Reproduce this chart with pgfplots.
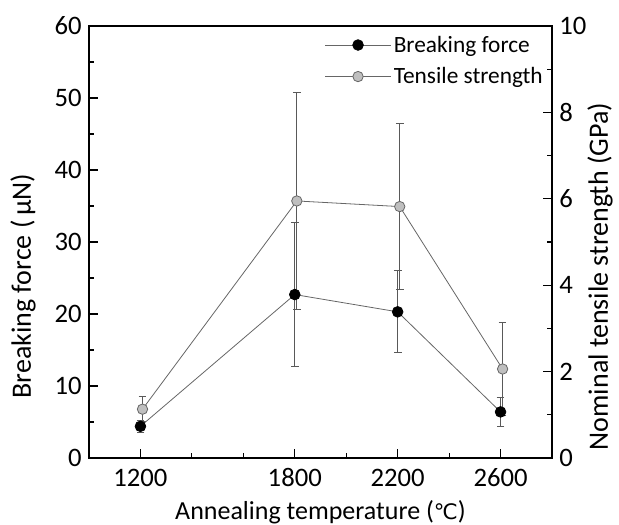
\documentclass[border=0pt]{standalone}
\usepackage{pgfplots}
\pgfplotsset{compat=1.18}
\usepackage{fontspec}
\setmainfont{Carlito}
\newfontfamily\dejavu{DejaVu Sans}
\pgfplotstableread{
x y e
1200 4.4 0.8
1800 22.7 10.0
2200 20.3 5.7
2600 6.4 2.0
}\forcedata
\pgfplotstableread{
x y e
1208 1.13 0.29
1808 5.95 2.52
2208 5.82 1.92
2608 2.06 1.07
}\strengthdata
\pgfplotsset{
  common/.style={
    at={(66.75pt,50.25pt)}, anchor=south west,
    width=347.25pt, height=324pt, scale only axis,
    xmin=1000, xmax=2800,
    tick align=inside,
    major tick length=6.5pt, minor tick length=4pt,
    tick style={black, line width=0.8pt},
    axis line style={line width=0.9pt},
    every axis label/.append style={font=\fontsize{19.5}{23}\selectfont},
    every axis y label/.append style={font=\fontsize{21}{25}\selectfont},
    tick label style={font=\fontsize{20}{24}\selectfont},
    /pgf/number format/assume math mode=true,
    /pgf/number format/1000 sep={},
    legend cell align=left,
  },
  lin/.style={line width=0.6pt, color=black!60},
  ebar/.style={error bars/.cd, y dir=both, y explicit,
    error bar style={line width=0.6pt, color=black!65},
    error mark options={rotate=90, mark size=2.9pt, line width=0.6pt, color=black!65}},
  legend image code/.code={\draw[#1,mark repeat=2,mark phase=2] plot coordinates {(0pt,0pt)(24.5pt,0pt)(49pt,0pt)};},
}
\begin{document}
\begin{tikzpicture}
\useasboundingbox (0,0) rectangle (464.25pt,393.75pt);
\begin{axis}[common,
  ymin=0, ymax=10,
  axis y line*=right, axis x line=none,
  ytick={0,2,...,10}, minor ytick={1,3,...,9},
  yticklabel style={xshift=2pt},
  ylabel={Nominal tensile strength (GPa)},
  ylabel style={at={(axis description cs:1.1037,0.42)}, anchor=center, rotate=0},
]
\addplot[lin, mark=*, mark size=3.9pt, mark options={fill=black!25, draw=black!60, line width=0.6pt, solid},
  ebar] table[x=x, y=y, y error=e] {\strengthdata};
\end{axis}
\begin{axis}[common,
  ymin=0, ymax=60,
  xtick={1200,1800,2200,2600}, minor xtick={1400,1600,2000,2400},
  xtick pos=bottom, ytick pos=left,
  ytick={0,10,...,60}, minor ytick={5,15,...,55},
  xticklabel style={yshift=-4.5pt},
  yticklabel style={xshift=-2pt},
  xlabel={Annealing temperature ({\dejavu\fontsize{16}{18}\selectfont ℃})},
  ylabel={Breaking force (\,μN)},
  xlabel style={at={(axis description cs:0.5,-0.1423)}, anchor=base},
  ylabel style={at={(axis description cs:-0.1425,0.398)}, anchor=center},
  legend style={draw=none, fill=none, at={(rel axis cs:0.995,0.99)}, anchor=north east,
    font=\fontsize{17.5}{21}\selectfont, row sep=6pt},
]
\addplot[lin, mark=*, mark size=4pt, mark options={fill=black, draw=black, solid},
  ebar] table[x=x, y=y, y error=e] {\forcedata};
\addlegendentry{Breaking force}
\addlegendimage{lin, mark=*, mark size=3.9pt, mark options={fill=black!25, draw=black!60, line width=0.6pt, solid}}
\addlegendentry{Tensile strength}
\end{axis}
\end{tikzpicture}
\end{document}
